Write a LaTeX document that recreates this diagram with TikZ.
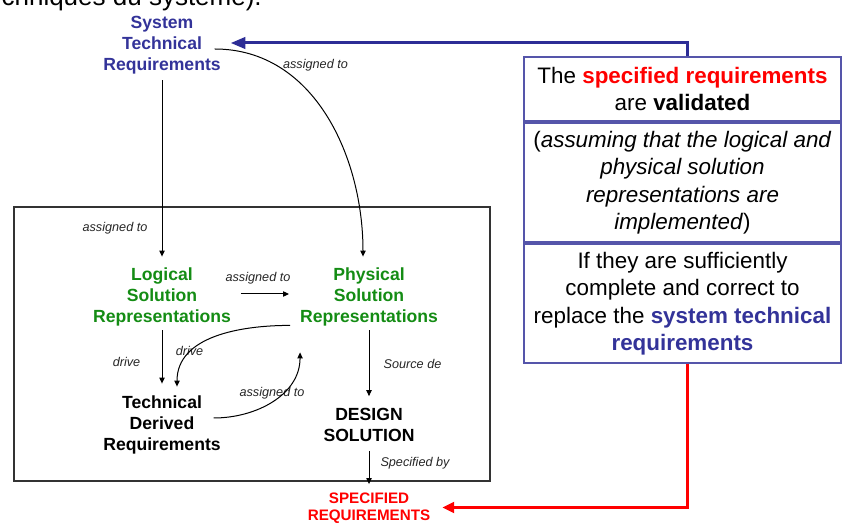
\documentclass[tikz,border=0pt]{standalone}
\usepackage{fontspec}
\setmainfont{Liberation Sans}
\usetikzlibrary{arrows.meta}
\definecolor{stblue}{RGB}{51,51,153}
\definecolor{arrblue}{RGB}{45,45,150}
\definecolor{boxblue}{RGB}{85,85,170}
\definecolor{solgreen}{RGB}{20,140,20}
\definecolor{myred}{RGB}{255,0,0}
\begin{document}
\begin{tikzpicture}[x=0.75pt,y=-0.75pt,
  txt/.style={inner sep=0pt,outer sep=0pt,align=center,font=\fontsize{13.2pt}{15.9pt}\selectfont\bfseries},
  lbl/.style={inner sep=0pt,outer sep=0pt,font=\fontsize{9.5pt}{11pt}\selectfont\itshape,text=black!85},
  arr/.style={-{Triangle[length=4.5pt,width=4pt]},line width=0.75pt,black},
  rbox/.style={draw=boxblue,line width=1.1pt,minimum width=237.75pt,inner sep=0pt,align=center,
    font=\fontsize{16.8pt}{20.6pt}\selectfont},
  bigblue/.style={-{Triangle[length=11pt,width=8.5pt]},line width=2.25pt,arrblue},
  bigred/.style={-{Triangle[length=9pt,width=8pt]},line width=2.25pt,myred}]
\useasboundingbox (0,0) rectangle (842,523);

\node[anchor=base east,inner sep=0pt,font=\fontsize{19.5pt}{23pt}\selectfont] (toptext) at (262,6) {techniques du système).};

\node[draw=black!80,line width=0.9pt,minimum width=357pt,minimum height=205.5pt] (frame) at (252,344) {};

\node[txt,text=stblue] (str) at (162,45) {System\\Technical\\Requirements};
\node[txt,text=solgreen] (lsr) at (162,297) {Logical\\Solution\\Representations};
\node[txt,text=solgreen] (psr) at (369,297) {Physical\\Solution\\Representations};
\node[txt] (tdr) at (162,425) {Technical\\Derived\\Requirements};
\node[txt] (dsn) at (369,425) {DESIGN\\SOLUTION};
\node[txt,text=myred,font=\fontsize{11.4pt}{12.9pt}\selectfont\bfseries] (spec) at (369,508.5) {SPECIFIED\\REQUIREMENTS};

\node[rbox,minimum height=48pt] (box1) at (682.5,89) {The \textcolor{myred}{\textbf{specified requirements}}\\are \textbf{validated}};
\node[rbox,minimum height=89.25pt] (box2) at (682.5,182.5) {(\textit{assuming that the logical and}\\\textit{physical solution}\\\textit{representations are}\\\textit{implemented})};
\node[rbox,minimum height=89.25pt] (box3) at (682.5,303.5) {If they are sufficiently\\complete and correct to\\replace the \textcolor{stblue}{\textbf{system technical}}\\\textcolor{stblue}{\textbf{requirements}}};

% labels
\node[lbl] (l1) at (315.5,65) {assigned to};
\node[lbl] (l2) at (115,228) {assigned to};
\node[lbl] (l3) at (258,278) {assigned to};
\node[lbl] (l4) at (126.5,362) {drive};
\node[lbl] (l5) at (189.5,351) {drive};
\node[lbl] (l6) at (272,393) {assigned to};
\node[lbl] (l7) at (412.5,364) {Source de};
\node[lbl] (l8) at (415,463) {Specified by};

% connectors
\draw[arr] ([shift={(0,6)}]str.south) -- ([shift={(0,-11)}]lsr.north);
\draw[arr] ([shift={(-6,4)}]str.east) to[out=0,in=90] ([shift={(-6,-11)}]psr.north);
\draw[arr] ([shift={(10,-3)}]lsr.east) -- ([shift={(-11,-3)}]psr.west);
\draw[arr] ([shift={(0,4)}]lsr.south) -- ([shift={(0,-12)}]tdr.north);
\draw[arr] ([shift={(-10,-1)}]psr.south west) to[out=180,in=90] ([shift={(15,-9)}]tdr.north);
\draw[arr] ([shift={(-7,-7)}]tdr.east) to[out=0,in=-90] ([shift={(0,26)}]psr.south west);
\draw[arr] ([shift={(0,4)}]psr.south) -- ([shift={(0,-12)}]dsn.north);
\draw[arr] ([shift={(0,9)}]dsn.south) -- ([shift={(0,-9)}]spec.north);

\draw[bigblue] ([shift={(4.5,0)}]box1.north) |- ([shift={(10,-2)}]str.east);
\draw[bigred] ([shift={(4.5,0)}]box3.south) |- ([shift={(12,-1)}]spec.east);
\end{tikzpicture}
\end{document}
